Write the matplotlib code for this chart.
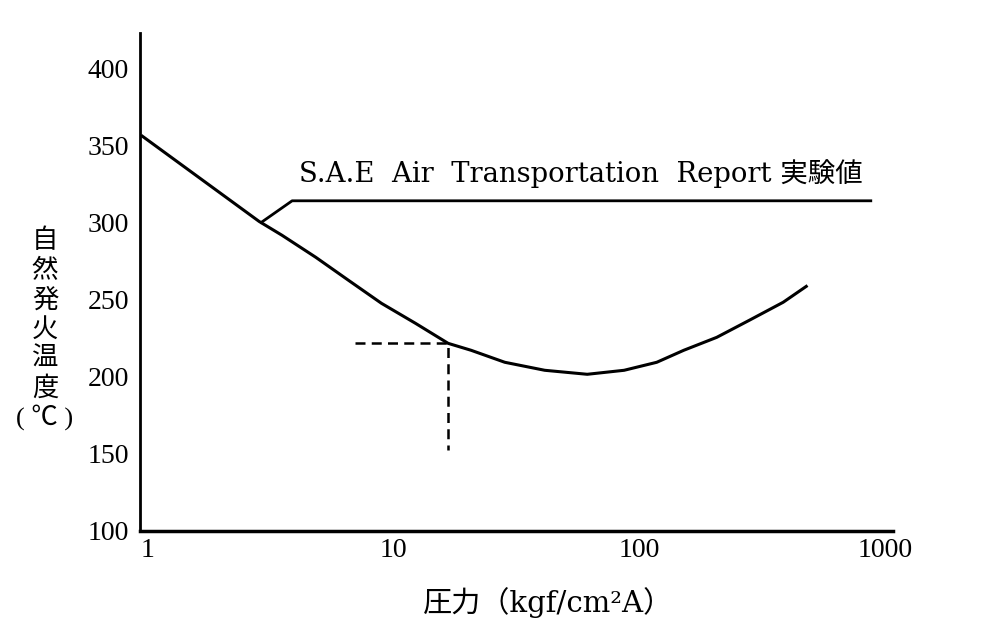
import matplotlib.pyplot as plt

# Data
pressure = [0.95, 2.84, 3.52, 4.83, 6.57, 8.94, 12.3, 16.7, 20.7, 28.4, 41.3,
            61.5, 86.9, 118, 152, 207, 281, 386, 479]
temp = [356, 300.6, 291.6, 277.3, 262.3, 247.4, 234.4, 221.4, 216.9, 209.1, 203.9,
        201.3, 203.9, 209.1, 216.9, 225.3, 236.4, 248.1, 258.4]

# dashed guide at ~17 kgf/cm2A
guide_x = [7.0, 16.7, 16.7]
guide_y = [221.4, 221.4, 152]

# leader line for the S.A.E annotation
leader_x = [2.9, 3.87, 877]
leader_y = [300, 314, 314]

xticks = [1, 10, 100, 1000]
yticks = [100, 150, 200, 250, 300, 350, 400]
ylabel_chars = list('自然発火温度')

serif = ['Liberation Serif', 'Noto Sans CJK JP']
wide_serif = ['DejaVu Serif', 'Noto Sans CJK JP']
jp = ['Noto Sans CJK JP', 'DejaVu Sans']

fig = plt.figure(figsize=(9.9, 6.28), dpi=100)
ax = fig.add_axes([140 / 990, 97 / 628, 753 / 990, 498 / 628])

ax.plot(pressure, temp, color='black', lw=2.2, solid_joinstyle='round')
ax.plot(guide_x, guide_y, color='black', lw=1.8, ls=(0, (4, 2.5)))
ax.plot(leader_x, leader_y, color='black', lw=2)

ax.set_xscale('log')
ax.set_xlim(0.93, 1080)
ax.set_ylim(99.5, 423)

ax.spines['top'].set_visible(False)
ax.spines['right'].set_visible(False)
ax.spines['left'].set_linewidth(2)
ax.spines['bottom'].set_linewidth(2.5)

ax.set_xticks(xticks)
ax.set_xticklabels([str(v) for v in xticks], family=serif, fontsize=20)
ax.minorticks_off()
ax.set_yticks(yticks)
ax.set_yticklabels([str(v) for v in yticks], family=serif, fontsize=20)
ax.tick_params(axis='x', length=0, pad=5)
ax.tick_params(axis='y', length=0, pad=8)

ax.text(4.13, 326, 'S.A.E  Air  Transportation  Report 実験値', family=wide_serif,
        fontsize=19.8, ha='left', va='baseline')

fig.text(548 / 990, 1 - 603 / 628, '圧力（kgf/cm²A）', family=wide_serif,
         fontsize=21, ha='center', va='center')
for i, ch in enumerate(ylabel_chars):
    fig.text(45 / 990, 1 - (241 + 29.4 * i) / 628, ch, family=jp,
             fontsize=19, ha='center', va='center')
fig.text(45 / 990, 1 - 417 / 628, '( ℃ )', family=serif,
         fontsize=19, ha='center', va='center')

fig.savefig('out.png', dpi=100)
